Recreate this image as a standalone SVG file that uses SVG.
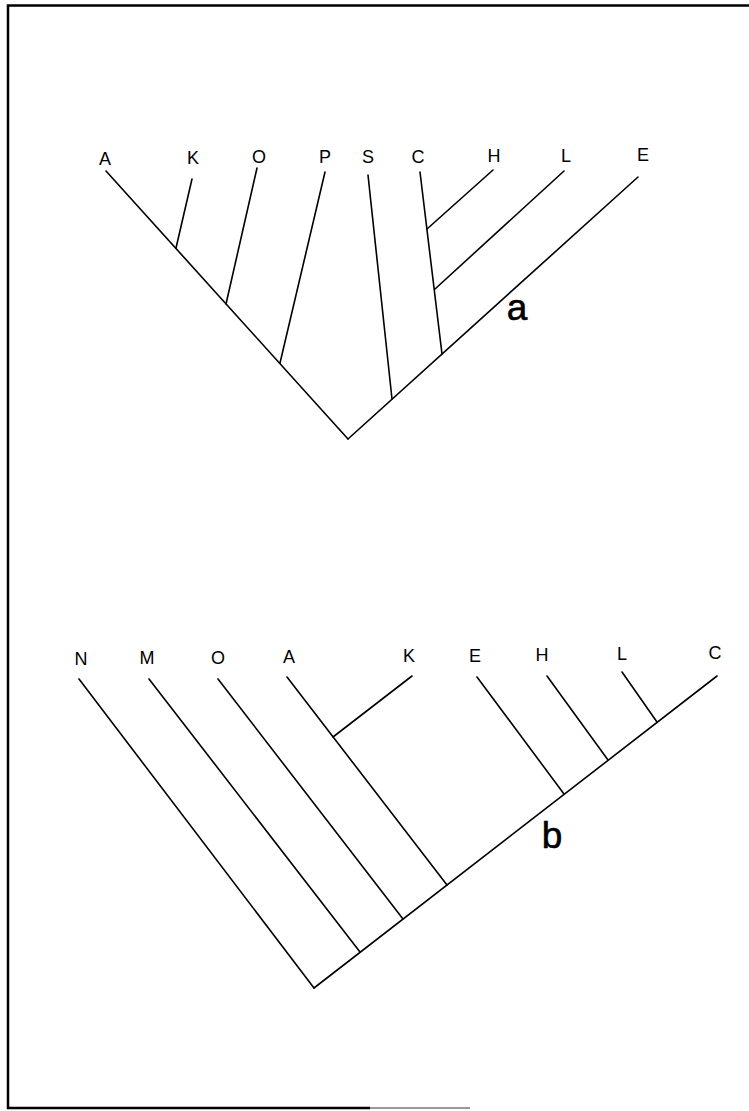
<svg xmlns="http://www.w3.org/2000/svg" width="749" height="1111" viewBox="0 0 749 1111">
<style>
.ln{stroke:#000;stroke-width:1.6;fill:none;stroke-linecap:round}
.fr{stroke:#000;stroke-width:2.5;fill:none}
.lb{font-family:"Liberation Sans",Arial,sans-serif;font-size:18px;fill:#000;text-anchor:middle}
.big{font-family:"Liberation Sans",Arial,sans-serif;font-size:37px;fill:#000;stroke:#000;stroke-width:0.6;text-anchor:middle}
</style>
<rect width="749" height="1111" fill="#fff"/>
<g id="frame">
<polyline class="fr" points="749,5.5 8,5.5 8,1108 370,1108"/>
<line x1="370" y1="1108" x2="470" y2="1108" stroke="#999" stroke-width="2"/>
</g>
<g id="connectors">
<!-- tree a -->
<line class="ln" x1="106" y1="171" x2="348" y2="439"/>
<line class="ln" x1="348" y1="439" x2="638" y2="177"/>
<line class="ln" x1="192" y1="179" x2="176" y2="248"/>
<line class="ln" x1="257" y1="168" x2="226" y2="304"/>
<line class="ln" x1="325" y1="172" x2="280" y2="363"/>
<line class="ln" x1="368" y1="175" x2="392" y2="399"/>
<line class="ln" x1="420" y1="172" x2="442" y2="354"/>
<line class="ln" x1="427" y1="229" x2="493" y2="170"/>
<line class="ln" x1="435" y1="289" x2="564" y2="171"/>
<!-- tree b -->
<line class="ln" x1="79" y1="679" x2="314" y2="988"/>
<line class="ln" x1="314" y1="988" x2="717" y2="676"/>
<line class="ln" x1="149" y1="679" x2="360" y2="952"/>
<line class="ln" x1="218" y1="679" x2="403" y2="919"/>
<line class="ln" x1="287" y1="677" x2="447" y2="885"/>
<line class="ln" x1="412" y1="676" x2="333" y2="737"/>
<line class="ln" x1="477" y1="677" x2="564" y2="794"/>
<line class="ln" x1="547" y1="676" x2="608" y2="760"/>
<line class="ln" x1="622" y1="672" x2="657" y2="722"/>
</g>
<g id="tree-a-labels">
<g id="a-A"><text class="lb" x="105" y="165">A</text></g>
<g id="a-K"><text class="lb" x="193" y="164">K</text></g>
<g id="a-O"><text class="lb" x="259" y="163">O</text></g>
<g id="a-P"><text class="lb" x="325" y="163">P</text></g>
<g id="a-S"><text class="lb" x="368" y="163">S</text></g>
<g id="a-C"><text class="lb" x="418" y="163">C</text></g>
<g id="a-H"><text class="lb" x="494" y="162">H</text></g>
<g id="a-L"><text class="lb" x="566" y="162">L</text></g>
<g id="a-E"><text class="lb" x="643" y="161">E</text></g>
<g id="label-a"><text class="big" x="517" y="320">a</text></g>
</g>
<g id="tree-b-labels">
<g id="b-N"><text class="lb" x="81" y="665">N</text></g>
<g id="b-M"><text class="lb" x="147" y="664">M</text></g>
<g id="b-O"><text class="lb" x="218" y="664">O</text></g>
<g id="b-A"><text class="lb" x="289" y="663">A</text></g>
<g id="b-K"><text class="lb" x="409" y="662">K</text></g>
<g id="b-E"><text class="lb" x="475" y="662">E</text></g>
<g id="b-H"><text class="lb" x="542" y="661">H</text></g>
<g id="b-L"><text class="lb" x="622" y="660">L</text></g>
<g id="b-C"><text class="lb" x="715" y="659">C</text></g>
<g id="label-b"><text class="big" x="552" y="848">b</text></g>
</g>
</svg>
